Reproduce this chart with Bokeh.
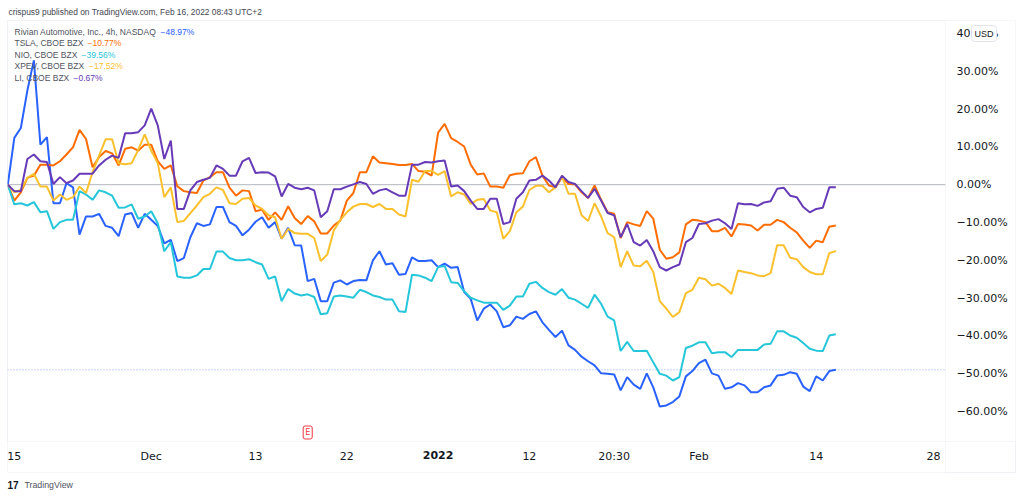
from bokeh.plotting import figure
from bokeh.models import Range1d, FixedTicker, Label, BoxAnnotation, LinearAxis
from bokeh.embed import file_html
from bokeh.resources import INLINE

# ---- data (percent change, 4h bars, Nov 15 2021 - Feb 15 2022) ----
rivn = [0, 12.4, 15.0, 24.9, 32.9, 10.6, 12.6, -4.9, -4.9, 0.4, -0.7, -13.2, -8.4, -8.4, -7.7, -10.9, -11.4, -13.6, -7.9, -7.5, -11.4, -7.7, -9.3, -10.9, -15.5, -14.6,
        -20.2, -19.4, -13.9, -10.2, -10.9, -10.5, -5.9, -5.9, -9.9, -10.9, -13.4, -11.9, -9.8, -8.6, -11.4, -9.9, -14.3, -11.4, -16.0, -16.1, -25.5, -24.9, -30.8, -30.8, -25.9, -25.3,
        -26.4, -25.5, -25.2, -25.3, -20.0, -17.6, -21.1, -20.8, -23.8, -23.6, -19.2, -20.2, -20.2, -20.0, -21.8, -20.9, -22.0, -21.8, -28.4, -30.2, -35.9, -32.8, -31.7, -33.5, -37.7, -37.2,
        -34.9, -35.5, -34.2, -33.5, -36.4, -38.4, -40.3, -38.6, -42.5, -43.7, -45.5, -46.7, -47.8, -49.9, -50.0, -50.2, -54.4, -50.9, -52.9, -54.0, -49.9, -53.6, -58.7, -58.4, -57.5, -56.0,
        -50.7, -49.3, -47.2, -46.3, -49.9, -50.5, -54.0, -53.6, -52.5, -53.1, -54.9, -54.9, -53.6, -53.1, -50.5, -50.3, -49.6, -50.0, -53.4, -54.6, -50.7, -51.8, -49.3, -48.97]
tsla = [0, -4.2, -2.0, 1.8, 2.4, 5.3, 5.3, 5.1, 6.2, 8.0, 9.9, 14.5, 12.1, 4.6, 7.3, 8.9, 8.3, 5.1, 9.5, 9.9, 9.0, 10.6, 10.6, 6.2, 4.2, 5.1,
        -0.4, -1.7, -2.0, -2.2, 1.1, 2.0, 3.3, 3.3, -0.8, -2.9, -1.5, -1.7, -7.0, -6.6, -9.3, -7.3, -9.3, -5.7, -8.8, -10.4, -8.3, -9.7, -12.9, -12.9, -10.8, -9.5,
        -4.2, -2.2, 3.3, 3.3, 7.5, 5.9, 5.7, 5.5, 5.2, 5.2, 5.5, 3.6, 3.4, 2.4, 13.8, 16.1, 12.3, 11.3, 10.1, 5.3, 2.7, 3.0, -0.5, -0.5, -0.8, 2.5,
        2.9, 3.0, 6.2, 7.3, 2.4, -0.2, -0.7, 2.0, 0.2, 0.1, -2.0, -3.5, -0.2, -4.0, -7.3, -7.7, -14.1, -9.9, -10.5, -10.9, -7.0, -9.0, -17.2, -19.6, -19.2, -17.9,
        -10.5, -9.3, -9.5, -9.9, -12.3, -12.3, -11.4, -13.7, -10.4, -10.5, -10.8, -12.1, -10.6, -10.6, -9.3, -9.9, -11.4, -12.6, -14.8, -16.7, -14.8, -15.2, -11.1, -10.77]
nio = [0, -5.2, -4.9, -5.5, -4.6, -7.3, -7.0, -11.7, -9.9, -9.3, -9.3, -1.7, -2.6, -4.0, -1.5, -2.0, -2.9, -6.1, -6.0, -5.2, -9.0, -8.4, -7.0, -10.2, -17.6, -15.2,
       -24.3, -24.6, -24.6, -24.0, -22.3, -22.3, -17.7, -17.7, -19.4, -20.0, -20.0, -19.7, -20.5, -21.1, -24.9, -24.3, -30.8, -27.6, -28.8, -29.3, -29.0, -29.7, -34.3, -34.0, -29.6, -29.3,
       -29.6, -29.9, -27.8, -28.4, -29.3, -29.7, -30.4, -30.4, -33.5, -33.7, -23.8, -24.0, -24.6, -25.5, -21.8, -21.5, -25.8, -26.0, -28.2, -29.9, -30.6, -31.2, -31.2, -31.2, -33.1, -32.0,
       -29.6, -29.6, -26.2, -25.7, -27.3, -28.4, -29.1, -27.6, -29.9, -30.4, -31.5, -32.6, -29.1, -31.5, -34.9, -35.9, -44.0, -41.6, -44.0, -44.0, -43.9, -47.0, -50.0, -50.5, -51.8, -50.9,
       -43.2, -42.6, -41.7, -41.7, -44.6, -44.3, -44.3, -45.6, -43.7, -43.7, -43.7, -43.7, -42.3, -42.1, -38.8, -38.8, -39.9, -40.5, -41.9, -43.4, -43.9, -44.0, -39.9, -39.56]
xpev = [0, -2.0, -1.4, 1.8, 2.9, -0.5, -0.5, -4.2, -2.6, -4.0, -3.3, -0.5, -2.2, 3.3, 7.7, 12.0, 12.0, 5.7, 5.4, 5.7, 9.2, 13.3, 9.0, 5.7, -3.3, -0.7,
        -9.9, -9.6, -7.5, -5.5, -3.3, -2.4, -0.7, -1.4, -4.9, -5.1, -3.7, -3.5, -5.5, -6.4, -8.1, -8.6, -14.3, -11.7, -12.8, -13.0, -13.0, -14.1, -20.2, -18.5, -12.1, -9.3,
        -7.3, -5.8, -5.1, -5.1, -5.9, -5.1, -6.4, -6.4, -7.9, -8.4, 1.3, 0.8, 3.6, 3.6, 2.6, 3.6, -3.1, -2.0, -2.6, -5.1, -4.0, -3.8, -6.8, -7.3, -14.3, -12.3,
        -7.3, -5.8, -1.4, -0.3, -0.3, -2.0, -0.7, 2.2, -2.4, -2.4, -8.1, -9.6, -4.9, -8.4, -12.8, -13.9, -21.8, -17.6, -21.4, -21.6, -20.1, -23.1, -30.8, -32.8, -35.0, -33.7,
        -28.7, -27.8, -24.6, -25.0, -26.7, -26.2, -27.3, -28.9, -22.7, -23.1, -23.4, -24.0, -24.2, -23.4, -16.0, -16.0, -19.3, -19.7, -21.8, -23.1, -23.7, -23.7, -18.1, -17.52]
li = [0, -1.7, -1.7, 6.8, 8.0, 6.2, 6.0, 0.2, 2.0, 0.4, 1.1, 2.9, 2.9, 2.9, 5.1, 6.6, 7.7, 7.1, 13.6, 13.6, 13.9, 15.7, 20.1, 15.7, 6.8, 11.7,
      -6.4, -6.4, -1.5, 0.7, 1.3, 1.8, 5.1, 4.2, 2.4, 2.4, 6.2, 7.1, 3.1, 3.3, 3.2, 2.2, -3.1, 0.2, -0.8, -1.2, -0.8, -1.5, -8.6, -7.0, -1.2, -1.2,
      -0.5, 0.1, 0.7, 0.2, -2.4, -1.5, -1.1, -2.0, -2.9, -2.9, 5.3, 5.3, 6.0, 5.9, 6.2, 6.4, -0.5, -0.2, -1.7, -4.2, -6.4, -6.4, -3.7, -3.7, -10.4, -9.9,
      -3.7, -2.0, 1.1, 1.3, 2.4, 1.1, -0.7, 2.4, 0.7, 0.2, -1.7, -3.5, -1.1, -4.2, -7.5, -8.1, -13.9, -10.4, -15.2, -16.1, -14.6, -17.6, -21.8, -22.7, -21.8, -21.1,
      -15.2, -14.1, -10.4, -10.2, -9.5, -9.1, -10.2, -11.7, -4.9, -5.2, -5.1, -5.6, -4.7, -4.4, -1.1, -0.8, -2.9, -3.3, -5.9, -7.3, -6.4, -6.1, -0.7, -0.67]

names = ["Rivian Automotive, Inc., 4h, NASDAQ", "TSLA, CBOE BZX", "NIO, CBOE BZX", "XPEV, CBOE BZX", "LI, CBOE BZX"]
colors = ["#2962FF", "#FF6D00", "#26C6DA", "#FBC02D", "#673AB7"]
all_series = [rivn, tsla, nio, xpev, li]

x_tick_pos = [1, 22, 38, 52, 66, 80, 93, 106, 124, 142]
x_tick_labels = ["15", "Dec", "13", "22", "2022", "12", "20:30", "Feb", "14", "28"]
y_ticks = [40, 30, 20, 10, 0, -10, -20, -30, -40, -50, -60]
earnings_bar = 46

bars = list(range(len(rivn)))

# layout geometry (bar index / percent at the chart-pane edges)
PANE_L, PANE_R = -0.05, 143.82
PANE_T, PANE_B = 43.44, -67.94


def pct(v):
    return f"{v:.2f}%".replace("-", "\u2212")


p = figure(width=1024, height=497, output_backend="svg", toolbar_location=None,
           x_range=Range1d(-1.12, 155.94), y_range=Range1d(-82.75, 48.73),
           x_axis_location=None, y_axis_location=None,
           min_border=0, min_border_left=0, min_border_right=0,
           min_border_top=0, min_border_bottom=0,
           background_fill_color="white", border_fill_color="white")
p.xgrid.visible = False
p.ygrid.visible = False
p.outline_line_color = None

# axes (drawn at the pane edges)
xax = LinearAxis(fixed_location=PANE_B, ticker=FixedTicker(ticks=x_tick_pos))
xax.major_label_overrides = {t: ("" if lab == "2022" else lab) for t, lab in zip(x_tick_pos, x_tick_labels)}
xax.major_label_standoff = 8
yax = LinearAxis(fixed_location=PANE_R, ticker=FixedTicker(ticks=y_ticks))
yax.major_label_overrides = {t: pct(t) for t in y_ticks}
yax.major_label_standoff = 11
for ax in (xax, yax):
    ax.major_tick_line_color = None
    ax.minor_tick_line_color = None
    ax.major_tick_out = 0
    ax.major_tick_in = 0
    ax.minor_tick_out = 0
    ax.minor_tick_in = 0
    ax.axis_line_color = None
    ax.major_label_text_font = "DejaVu Sans"
    ax.major_label_text_font_size = "11px"
    ax.major_label_text_color = "#131722"
p.add_layout(xax, "below")
p.add_layout(yax, "right")

# frame lines: whole chart box, pane, and the corner under the price scale
box_kw = dict(left_units="screen", right_units="screen", bottom_units="screen", top_units="screen",
              fill_alpha=0, line_color="#E0E3EB", line_width=1)
p.add_layout(BoxAnnotation(left=7, right=1015, bottom=25, top=477, **box_kw))
p.add_layout(BoxAnnotation(left=7, right=945, bottom=56, top=477, **box_kw))
p.add_layout(BoxAnnotation(left=945, right=1015, bottom=25, top=56, **box_kw))

# reference lines
p.segment(x0=[PANE_L], x1=[PANE_R], y0=[0], y1=[0], line_color="#B2B5BE", line_width=1)
p.segment(x0=[PANE_L], x1=[PANE_R], y0=[rivn[-1]], y1=[rivn[-1]], line_color="#2962FF",
          line_alpha=0.55, line_width=1, line_dash="1 2")

# series
for vals, c in zip(all_series, colors):
    p.line(bars, vals, line_color=c, line_width=2)

# bold year tick label
p.add_layout(Label(x=x_tick_pos[4], y=PANE_B, text=x_tick_labels[4], y_offset=-9,
                   text_font="DejaVu Sans", text_font_size="11px", text_font_style="bold",
                   text_color="#131722", text_align="center", text_baseline="top"))

# earnings marker
p.add_layout(Label(x=earnings_bar, y=65, y_units="screen", text="E", text_font="DejaVu Sans",
                   text_font_size="8px", text_color="#F23645", text_align="center",
                   text_baseline="middle", background_fill_color="white",
                   border_line_color="#F23645", border_line_width=1, padding=2, border_radius=2))

# currency box
p.add_layout(Label(x=983.5, y=464, x_units="screen", y_units="screen", text="USD",
                   text_font="Liberation Sans", text_font_size="9px", text_color="#131722",
                   text_align="center", text_baseline="middle", background_fill_color="white",
                   border_line_color="#E0E3EB", border_line_width=1, padding=3, border_radius=3))

# header text
p.add_layout(Label(x=8, y=485.3, x_units="screen", y_units="screen",
                   text="crispus9 published on TradingView.com, Feb 16, 2022 08:43 UTC+2",
                   text_font="Liberation Sans", text_font_size="8.4px", text_color="#434651",
                   text_baseline="middle"))

# legend
row_y = [466, 454.5, 443, 431.3, 419.5]
val_x = [160, 87, 81, 88.5, 73]
for name, vals, c, yy, vx in zip(names, all_series, colors, row_y, val_x):
    p.add_layout(Label(x=14, y=yy, x_units="screen", y_units="screen", text=name,
                       text_font="Liberation Sans", text_font_size="8.5px", text_color="#50535E",
                       text_baseline="middle"))
    p.add_layout(Label(x=vx, y=yy, x_units="screen", y_units="screen", text=pct(vals[-1]),
                       text_font="Liberation Sans", text_font_size="8.5px", text_color=c,
                       text_baseline="middle"))

# footer logo
p.add_layout(Label(x=7, y=13, x_units="screen", y_units="screen", text="17",
                   text_font="Liberation Sans", text_font_size="10px", text_font_style="bold",
                   text_color="#131722", text_baseline="middle"))
p.add_layout(Label(x=24, y=13, x_units="screen", y_units="screen", text="TradingView",
                   text_font="Liberation Sans", text_font_size="8.8px", text_color="#50535E",
                   text_baseline="middle"))

open("out.html", "w").write(file_html(p, INLINE))
